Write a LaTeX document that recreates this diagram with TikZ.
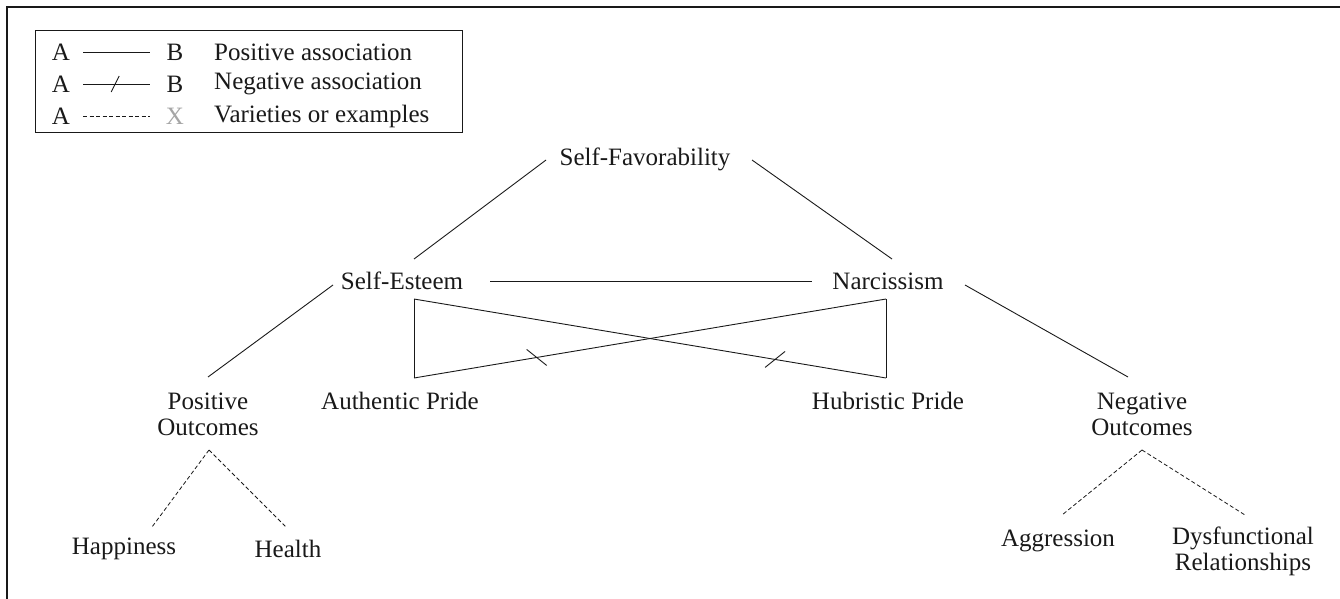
\documentclass[tikz,border=0pt]{standalone}
\usepackage{fontspec}
\setmainfont{Liberation Serif}
\usetikzlibrary{calc}
\begin{document}
\begin{tikzpicture}[x=1pt,y=-1pt,
  lbl/.style={font=\fontsize{25}{26}\selectfont, inner sep=0pt, align=center, text=black!90},
  link/.style={line width=0.9pt, draw=black!90},
  example/.style={line width=0.8pt, draw=black!90, dash pattern=on 4pt off 2.5pt},
  tick/.style={line width=0.9pt, draw=black!90},
  frameline/.style={line width=1.5pt, draw=black!90}]
\useasboundingbox (0,0) rectangle (1340,599);

% outer frame (top and left edges)
\coordinate (fr-tl) at (7,7);
\coordinate (fr-tr) at (1340,7);
\coordinate (fr-bl) at (7,599);
\draw[frameline] (fr-tr) -- (fr-tl) -- (fr-bl);

% key
\node[draw=black!90, line width=1.1pt, minimum width=427pt, minimum height=102pt, inner sep=0pt, anchor=north west] (key) at (35,30) {};
\foreach \r/\yy in {1/52, 2/84, 3/116} {
  \node[lbl] (ka\r) at (61,\yy) {A};
  \coordinate (kl\r) at (83,\yy);
  \coordinate (kr\r) at (150,\yy);
}
\node[lbl] (kb1) at (175,52) {B};
\node[lbl] (kb2) at (175,84) {B};
\node[lbl, text=black!35] (kx3) at (175,116) {X};
\node[lbl, anchor=west] (kt1) at (214,52) {Positive association};
\node[lbl, anchor=west] (kt2) at (214,84) {Negative association};
\node[lbl, anchor=west] (kt3) at (214,116) {Varieties or examples};
\draw[link] (kl1) -- (kr1);
\draw[link] (kl2) -- (kr2);
\draw[tick] ($(kl2)!0.48!(kr2)+(-4,8)$) -- ($(kl2)!0.48!(kr2)+(4,-8)$);
\draw[example] (kl3) -- (kr3);

% concepts
\node[lbl] (sf) at (645,159) {Self-Favorability};
\node[lbl] (se) at (402,281) {Self-Esteem};
\node[lbl] (nc) at (888,281) {Narcissism};
\node[lbl] (po) at (208,414) {Positive\\Outcomes};
\node[lbl] (ap) at (400,401) {Authentic Pride};
\node[lbl] (hp) at (888,401) {Hubristic Pride};
\node[lbl] (no) at (1142,414) {Negative\\Outcomes};
\node[lbl] (hap) at (124,549) {Happiness};
\node[lbl] (hea) at (288,549) {Health};
\node[lbl] (agg) at (1058,541) {Aggression};
\node[lbl] (dys) at (1243,551) {Dysfunctional\\Relationships};

% connector ends
\coordinate (sf-l) at (546,160);
\coordinate (sf-r) at (752,160);
\coordinate (se-t) at (414,259);
\coordinate (nc-t) at (892,259);
\coordinate (se-r) at (490,281);
\coordinate (nc-l) at (812,281);
\coordinate (se-l) at (333,285);
\coordinate (po-t) at (208,377);
\coordinate (nc-rr) at (965,285);
\coordinate (no-t) at (1128,377);
\coordinate (se-b) at (414,299);
\coordinate (nc-b) at (886,299);
\coordinate (ap-t) at (414,378);
\coordinate (hp-t) at (886,378);
\coordinate (po-b) at (209,450);
\coordinate (hap-t) at (152,527);
\coordinate (hea-t) at (287,528);
\coordinate (no-b) at (1142,450);
\coordinate (agg-t) at (1062,515);
\coordinate (dys-t) at (1245,515);

% positive associations
\draw[link] (sf-l) -- (se-t);
\draw[link] (sf-r) -- (nc-t);
\draw[link] (se-r) -- (nc-l);
\draw[link] (se-l) -- (po-t);
\draw[link] (nc-rr) -- (no-t);
\draw[link] (se-b) -- (ap-t);
\draw[link] (nc-b) -- (hp-t);

% negative associations (crossed)
\draw[link] (ap-t) -- (nc-b);
\draw[link] (se-b) -- (hp-t);
\coordinate (tk1) at ($(ap-t)!0.26!(nc-b)$);
\coordinate (tk2) at ($(se-b)!0.765!(hp-t)$);
\draw[tick] ($(tk1)+(-10,-8)$) -- ($(tk1)+(10,8)$);
\draw[tick] ($(tk2)+(10,-8)$) -- ($(tk2)+(-10,8)$);

% examples
\draw[example] (po-b) -- (hap-t);
\draw[example] (po-b) -- (hea-t);
\draw[example] (no-b) -- (agg-t);
\draw[example] (no-b) -- (dys-t);
\end{tikzpicture}
\end{document}
